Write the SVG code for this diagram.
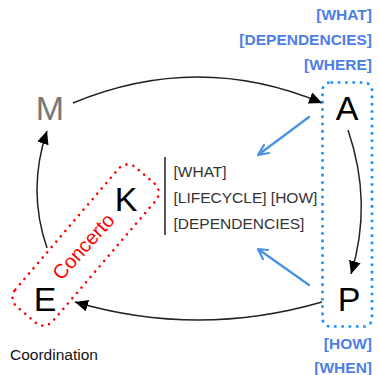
<svg xmlns="http://www.w3.org/2000/svg" width="379" height="375" viewBox="0 0 379 375">
<style>
.big{font-family:"Liberation Sans",Arial,sans-serif;font-size:34px;fill:#000;text-anchor:middle}
.sm{font-family:"Liberation Sans",Arial,sans-serif;font-size:15.5px;fill:#333}
.bl{font-family:"Liberation Sans",Arial,sans-serif;font-size:15.5px;font-weight:bold;fill:#4d7ee6;text-anchor:end}
.cyc{fill:none;stroke:#222;stroke-width:1.5;marker-end:url(#ah)}
.barr{fill:none;stroke:#4a90e2;stroke-width:2.2;stroke-linecap:round;stroke-linejoin:round}
</style>
<defs>
<marker id="ah" markerUnits="userSpaceOnUse" markerWidth="14" markerHeight="12" refX="13" refY="6" orient="auto">
<path d="M0,0 L13,6 L0,12 Z" fill="#000"/>
</marker>
</defs>
<rect width="379" height="375" fill="#fff"/>
<g id="connectors">
<path class="cyc" d="M73,103 Q198,51 322,103"/>
<path class="cyc" d="M348,130 Q373,203 351,274"/>
<path class="cyc" d="M322,302 Q198,338 75,302"/>
<path class="cyc" d="M47,248 Q27,190 47,131"/>
<path class="barr" d="M309,117 L258,155 M264,145 L258,155 L269,153"/>
<path class="barr" d="M309,285 L258,249 M268,250 L258,249 L263,259"/>
</g>
<g id="plan-group">
<rect x="322.5" y="82.5" width="49.5" height="244" rx="8" fill="none" stroke="#1a90ff" stroke-width="2.6" stroke-dasharray="2.6 4.7"/>
</g>
<g id="concerto-group">
<rect x="-91.5" y="-24.5" width="183" height="49" rx="12" transform="translate(85.6,245) rotate(-49.5)" fill="none" stroke="#ff0000" stroke-width="2.6" stroke-linecap="round" stroke-dasharray="0 7"/>
<text transform="translate(84,247) rotate(-48)" x="0" y="6" font-family="'Liberation Sans',Arial,sans-serif" font-size="20" fill="#ff0000" text-anchor="middle">Concerto</text>
</g>
<g id="node-M"><text class="big" x="50" y="120" style="fill:#777">M</text></g>
<g id="node-A"><text class="big" x="347" y="120">A</text></g>
<g id="node-P"><text class="big" x="349" y="311">P</text></g>
<g id="node-E"><text class="big" x="45" y="311">E</text></g>
<g id="node-K">
<text class="big" x="126" y="211">K</text>
<line x1="165" y1="157" x2="165" y2="235" stroke="#000" stroke-width="1.3"/>
<text class="sm" x="173.5" y="177">[WHAT]</text>
<text class="sm" x="173.5" y="203">[LIFECYCLE] [HOW]</text>
<text class="sm" x="173.5" y="229">[DEPENDENCIES]</text>
</g>
<g id="labels">
<text class="bl" x="372" y="20">[WHAT]</text>
<text class="bl" x="372" y="45">[DEPENDENCIES]</text>
<text class="bl" x="372" y="70">[WHERE]</text>
<text class="bl" x="372" y="349">[HOW]</text>
<text class="bl" x="372" y="373">[WHEN]</text>
<text class="sm" x="10" y="360" style="fill:#111">Coordination</text>
</g>
</svg>
